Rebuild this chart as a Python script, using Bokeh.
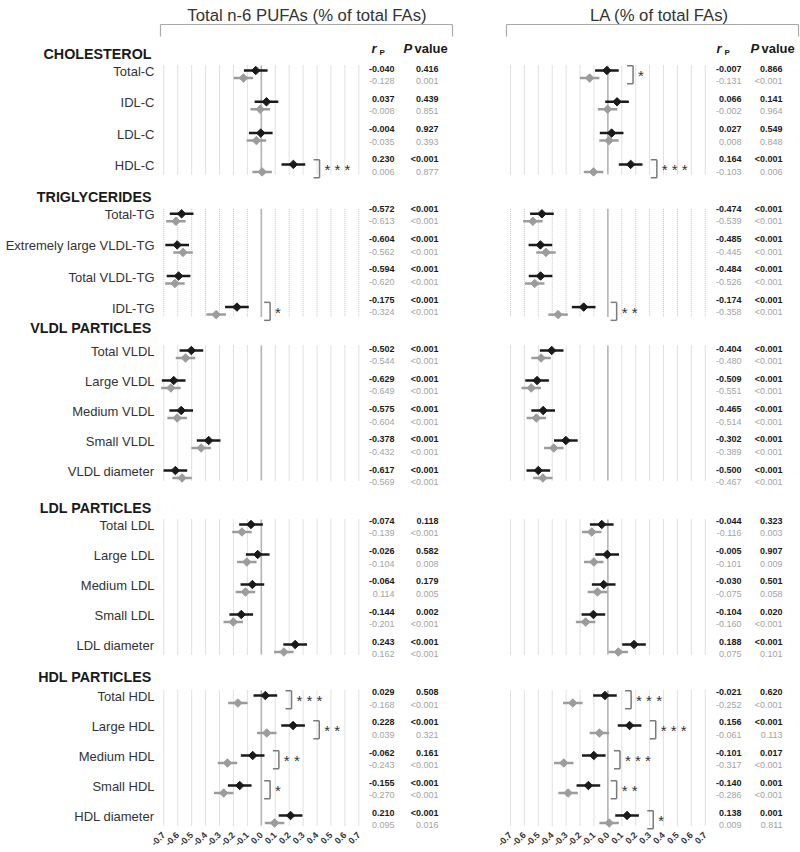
import math
from bokeh.plotting import figure
from bokeh.layouts import row
from bokeh.models import Range1d, FixedTicker, PrintfTickFormatter
from bokeh.core.properties import value
from bokeh.embed import file_html
from bokeh.resources import INLINE

FONT = "Liberation Sans"

# ---------------- data ----------------
sections = ["CHOLESTEROL", "TRIGLYCERIDES", "VLDL PARTICLES", "LDL PARTICLES", "HDL PARTICLES"]
section_rows = [
    ["Total-C", "IDL-C", "LDL-C", "HDL-C"],
    ["Total-TG", "Extremely large VLDL-TG", "Total VLDL-TG", "IDL-TG"],
    ["Total VLDL", "Large VLDL", "Medium VLDL", "Small VLDL", "VLDL diameter"],
    ["Total LDL", "Large LDL", "Medium LDL", "Small LDL", "LDL diameter"],
    ["Total HDL", "Large HDL", "Medium HDL", "Small HDL", "HDL diameter"],
]
ticks = [-0.7, -0.6, -0.5, -0.4, -0.3, -0.2, -0.1, 0.0, 0.1, 0.2, 0.3, 0.4, 0.5, 0.6, 0.7]

n6_title = "Total n-6 PUFAs (% of total FAs)"
n6_r_black = [-0.040, 0.037, -0.004, 0.230,
              -0.572, -0.604, -0.594, -0.175,
              -0.502, -0.629, -0.575, -0.378, -0.617,
              -0.074, -0.026, -0.064, -0.144, 0.243,
              0.029, 0.228, -0.062, -0.155, 0.210]
n6_p_black = ["0.416", "0.439", "0.927", "<0.001",
              "<0.001", "<0.001", "<0.001", "<0.001",
              "<0.001", "<0.001", "<0.001", "<0.001", "<0.001",
              "0.118", "0.582", "0.179", "0.002", "<0.001",
              "0.508", "<0.001", "0.161", "<0.001", "<0.001"]
n6_r_gray = [-0.128, -0.008, -0.035, 0.006,
             -0.613, -0.562, -0.620, -0.324,
             -0.544, -0.649, -0.604, -0.432, -0.569,
             -0.139, -0.104, -0.114, -0.201, 0.162,
             -0.168, 0.039, -0.243, -0.270, 0.095]
n6_p_gray = ["0.001", "0.851", "0.393", "0.877",
             "<0.001", "<0.001", "<0.001", "<0.001",
             "<0.001", "<0.001", "<0.001", "<0.001", "<0.001",
             "<0.001", "0.008", "0.005", "<0.001", "<0.001",
             "<0.001", "0.321", "<0.001", "<0.001", "0.016"]
n6_sig = ["", "", "", "* * *",
          "", "", "", "*",
          "", "", "", "", "",
          "", "", "", "", "",
          "* * *", "* *", "* *", "*", ""]

la_title = "LA (% of total FAs)"
la_r_black = [-0.007, 0.066, 0.027, 0.164,
              -0.474, -0.485, -0.484, -0.174,
              -0.404, -0.509, -0.465, -0.302, -0.500,
              -0.044, -0.005, -0.030, -0.104, 0.188,
              -0.021, 0.156, -0.101, -0.140, 0.138]
la_p_black = ["0.866", "0.141", "0.549", "<0.001",
              "<0.001", "<0.001", "<0.001", "<0.001",
              "<0.001", "<0.001", "<0.001", "<0.001", "<0.001",
              "0.323", "0.907", "0.501", "0.020", "<0.001",
              "0.620", "<0.001", "0.017", "0.001", "0.001"]
la_r_gray = [-0.131, -0.002, 0.008, -0.103,
             -0.539, -0.445, -0.526, -0.358,
             -0.480, -0.551, -0.514, -0.389, -0.467,
             -0.116, -0.101, -0.075, -0.160, 0.075,
             -0.252, -0.061, -0.317, -0.286, 0.009]
la_p_gray = ["<0.001", "0.964", "0.848", "0.006",
             "<0.001", "<0.001", "<0.001", "<0.001",
             "<0.001", "<0.001", "<0.001", "<0.001", "<0.001",
             "0.003", "0.009", "0.058", "<0.001", "0.101",
             "<0.001", "0.113", "<0.001", "<0.001", "0.811"]
la_sig = ["*", "", "", "* * *",
          "", "", "", "* *",
          "", "", "", "", "",
          "", "", "", "", "",
          "* * *", "* * *", "* * *", "* *", "*"]

ci_black = 0.085   # half width of the black intervals
ci_gray = 0.07     # half width of the gray intervals

# ---------------- layout ----------------
PAGE_TOP, PAGE_BOTTOM = 0, 830
FRAME_H = PAGE_BOTTOM - PAGE_TOP
FIRST = [70.0, 213.3, 350.0, 524.0, 695.0]
PITCH = [31.3, 31.1, 30.0, 30.0, 30.0]
TXT_FIRST = [68.3, 208.5, 348.3, 520.5, 691.7]
TXT_PITCH = 30.2
HEAD_Y = [53, 196, 327, 507, 676]
GRAY_DY = 7.5
GRAY_TXT_DY = 12.4

BLACK = "#1a1a1a"
GRAY = "#9c9c9c"
GRAY_TXT = "#a3a3a3"

names = [n for sec in section_rows for n in sec]
ys, ty = [], []
for s, sec in enumerate(section_rows):
    for i in range(len(sec)):
        ys.append(FIRST[s] + PITCH[s] * i)
        ty.append(TXT_FIRST[s] + TXT_PITCH * i)
yg = [y + GRAY_DY for y in ys]
tyg = [y + GRAY_TXT_DY for y in ty]


def txt(p, x, y, text, size, color, align="left", baseline="middle", style="normal"):
    p.text(x=x, y=y, text=text, text_font=value(FONT), text_font_size=value(size),
           text_color=color, text_align=align, text_baseline=baseline,
           text_font_style=style)


def panel(title, title_cx, bracket, r_b, r_g, r_g_text, p_b, p_g, sig,
          page_left, frame_w, page_m07, scale, col_r, col_p, hdr, show_labels):
    def X(px):
        return -0.7 + (px - page_m07) / scale

    def W(dpx):
        return dpx / scale

    p = figure(frame_width=frame_w, frame_height=FRAME_H,
               x_range=Range1d(X(page_left), X(page_left + frame_w)),
               y_range=Range1d(PAGE_BOTTOM, PAGE_TOP),
               output_backend="svg", toolbar_location=None, min_border=0,
               y_axis_location=None, outline_line_color=None,
               background_fill_color="white", border_fill_color="white")
    p.xgrid.visible = False
    p.ygrid.visible = False
    ax = p.xaxis[0]
    ax.ticker = FixedTicker(ticks=ticks)
    ax.formatter = PrintfTickFormatter(format="%.1f")
    ax.major_label_orientation = math.pi / 4
    ax.axis_line_color = None
    ax.major_tick_line_color = None
    ax.minor_tick_line_color = None
    ax.major_tick_out = 0
    ax.major_tick_in = 0
    ax.major_label_standoff = 3
    ax.major_label_text_font = FONT
    ax.major_label_text_font_size = "9px"
    ax.major_label_text_font_style = "bold"
    ax.major_label_text_color = "#333333"

    # grid lines per section
    gx, gy0, gy1, zx, zy0, zy1 = [], [], [], [], [], []
    for s, sec in enumerate(section_rows):
        top = FIRST[s] - 5
        bot = FIRST[s] + PITCH[s] * (len(sec) - 1) + 10
        for t in ticks:
            if abs(t) < 1e-9:
                zx.append(t); zy0.append(top); zy1.append(bot)
            else:
                gx.append(t); gy0.append(top); gy1.append(bot)
    p.segment(x0=gx, y0=gy0, x1=gx, y1=gy1, line_color="#c2c2c2", line_width=1, line_dash="1 1")
    p.segment(x0=zx, y0=zy0, x1=zx, y1=zy1, line_color="#b3b3b3", line_width=1.6)

    # intervals and points
    p.segment(x0=[r - ci_gray for r in r_g], y0=yg, x1=[r + ci_gray for r in r_g], y1=yg,
              line_color=GRAY, line_width=2.5)
    p.segment(x0=[r - ci_black for r in r_b], y0=ys, x1=[r + ci_black for r in r_b], y1=ys,
              line_color=BLACK, line_width=2.5)
    p.scatter(r_g, yg, marker="square", angle=math.pi / 4, size=6, fill_color=GRAY, line_color=GRAY)
    p.scatter(r_b, ys, marker="square", angle=math.pi / 4, size=6, fill_color=BLACK, line_color=BLACK)

    # significance brackets
    bx0, by0, bx1, by1, sx, sy, st = [], [], [], [], [], [], []
    for i, s in enumerate(sig):
        if not s:
            continue
        up = max(r_b[i] + ci_black, r_g[i] + ci_gray)
        bx = max(up + 0.06, 0.02)
        vx = bx + W(6)
        mid = (ys[i] + yg[i]) / 2
        yt, yb = mid + 0.5 - 9, mid + 0.5 + 9
        bx0 += [bx, vx, bx]; by0 += [yt, yt, yb]
        bx1 += [vx, vx, vx]; by1 += [yt, yb, yb]
        sx.append(vx + W(5)); sy.append(mid + 1.5); st.append(s)
    p.segment(x0=bx0, y0=by0, x1=bx1, y1=by1, line_color="#7a7a7a", line_width=1.5)
    txt(p, sx, sy, st, "15px", "#333333", baseline="alphabetic")

    # table values
    n = len(r_b)
    txt(p, [X(col_r)] * n, ty, [f"{v:.3f}" for v in r_b], "9px", BLACK, "right", style="bold")
    txt(p, [X(col_p)] * n, ty, p_b, "9px", BLACK, "right", style="bold")
    txt(p, [X(col_r)] * n, tyg, r_g_text, "9px", GRAY_TXT, "right")
    txt(p, [X(col_p)] * n, tyg, p_g, "9px", GRAY_TXT, "right")

    # table headers
    txt(p, [X(hdr[0])], [48], ["r"], "13px", BLACK, style="bold italic")
    txt(p, [X(hdr[1])], [52], ["P"], "8px", BLACK, style="bold")
    txt(p, [X(hdr[2])], [48], ["P"], "13px", BLACK, style="bold italic")
    txt(p, [X(hdr[3])], [48], ["value"], "13px", BLACK, style="bold")

    # title and bracket
    txt(p, [X(title_cx)], [15], [title], "16.7px", "#333333", "center", baseline="alphabetic")
    L, R = X(bracket[0]), X(bracket[1])
    p.segment(x0=[L, L, R], y0=[24, 24, 24], x1=[R, L, R], y1=[24, 36, 36],
              line_color="#aaaaaa", line_width=1.2)

    if show_labels:
        txt(p, [X(154)] * len(names), [y + 1 for y in ys], names, "13px", "#333333", "right")
        txt(p, [X(151)] * len(sections), HEAD_Y, sections, "14.3px", BLACK, "right", style="bold")
    return p


n6_r_gray_text = [f"{v:.3f}" for v in n6_r_gray]
n6_r_gray_text[15] = "0.114"   # printed without sign in the source table
la_r_gray_text = [f"{v:.3f}" for v in la_r_gray]

left = panel(n6_title, 306.5, (160, 452), n6_r_black, n6_r_gray, n6_r_gray_text,
             n6_p_black, n6_p_gray, n6_sig,
             page_left=0, frame_w=478, page_m07=163.3, scale=139.3,
             col_r=394, col_p=438, hdr=(371, 379, 403, 414), show_labels=True)
right = panel(la_title, 659, (506, 798), la_r_black, la_r_gray, la_r_gray_text,
              la_p_black, la_p_gray, la_sig,
              page_left=478, frame_w=322, page_m07=510, scale=139.1,
              col_r=741, col_p=782, hdr=(716, 724, 750, 761), show_labels=False)

p = row(left, right)
open("out.html", "w").write(file_html(p, INLINE))
